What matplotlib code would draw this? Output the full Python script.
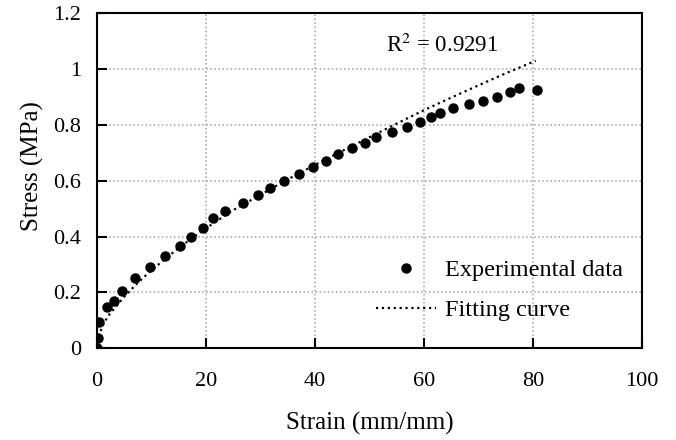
import numpy as np
import matplotlib.pyplot as plt

plt.rcParams['font.family'] = ['Liberation Serif', 'DejaVu Serif']

# experimental points
strain = [0, 0.1, 0.4, 1.8, 3.2, 4.6, 7.0, 9.8, 12.5, 15.3, 17.2, 19.4, 21.2,
          23.5, 26.7, 29.5, 31.7, 34.4, 37.0, 39.7, 42.0, 44.3, 46.8, 49.1,
          51.2, 54.1, 56.8, 59.3, 61.2, 62.9, 65.3, 68.2, 70.8, 73.4, 75.7,
          77.5, 80.7]
stress = [0, 0.036, 0.095, 0.149, 0.169, 0.206, 0.251, 0.292, 0.331, 0.366,
          0.400, 0.432, 0.466, 0.493, 0.522, 0.548, 0.575, 0.600, 0.625, 0.650,
          0.672, 0.696, 0.718, 0.736, 0.757, 0.776, 0.794, 0.809, 0.830, 0.844,
          0.860, 0.874, 0.887, 0.901, 0.917, 0.933, 0.925]

# fitting curve, points
fit_x = [0, 0.3, 1, 2, 3.5, 5, 7.5, 10, 15, 20, 25, 30, 35, 40, 45, 50, 55,
         60, 65, 70, 75, 80.5]
fit_y = [0, 0.04, 0.08, 0.115, 0.15, 0.185, 0.235, 0.28, 0.36, 0.43, 0.495,
         0.55, 0.605, 0.657, 0.707, 0.756, 0.805, 0.853, 0.898, 0.942, 0.985,
         1.03]

r2_text = 'R$^2$ = 0.9291'

fig = plt.figure(figsize=(6.76, 4.4), dpi=100)
ax = fig.add_axes([0.1435, 0.2084, 0.8062, 0.7614])

ax.plot(strain, stress, 'o', color='black', markersize=6.5,
        label='Experimental data', zorder=3)
ax.plot(fit_x, fit_y, ':', color='black', linewidth=1.6,
        label='Fitting curve', zorder=2)

ax.set_xlim(0, 100)
ax.set_ylim(0, 1.2)
ax.set_xticks([0, 20, 40, 60, 80, 100])
ax.set_yticks([0, 0.2, 0.4, 0.6, 0.8, 1.0, 1.2])
ax.set_yticklabels(['0', '0.2', '0.4', '0.6', '0.8', '1', '1.2'])
ax.tick_params(direction='in', length=7, width=1.5, labelsize=16)
ax.tick_params(axis='x', pad=17)
ax.tick_params(axis='y', pad=11.5)
for s in ax.spines.values():
    s.set_linewidth(1.5)

ax.grid(True, linestyle=':', color='#a0a0a0', linewidth=1.1)
ax.set_axisbelow(True)

ax.set_xlabel('Strain (mm/mm)', fontsize=18, labelpad=15)
ax.set_ylabel('Stress (MPa)', fontsize=18)
ax.yaxis.set_label_coords(-0.098, 0.544)

ax.text(53, 1.086, r2_text, fontsize=16.5, va='center',
        math_fontfamily='stix')

ax.legend(loc='lower right', frameon=False, fontsize=17.5,
          bbox_to_anchor=(1.005, 0.015), handlelength=2.5, handletextpad=0.35,
          labelspacing=0.75)

fig.savefig('out.png', dpi=100)
